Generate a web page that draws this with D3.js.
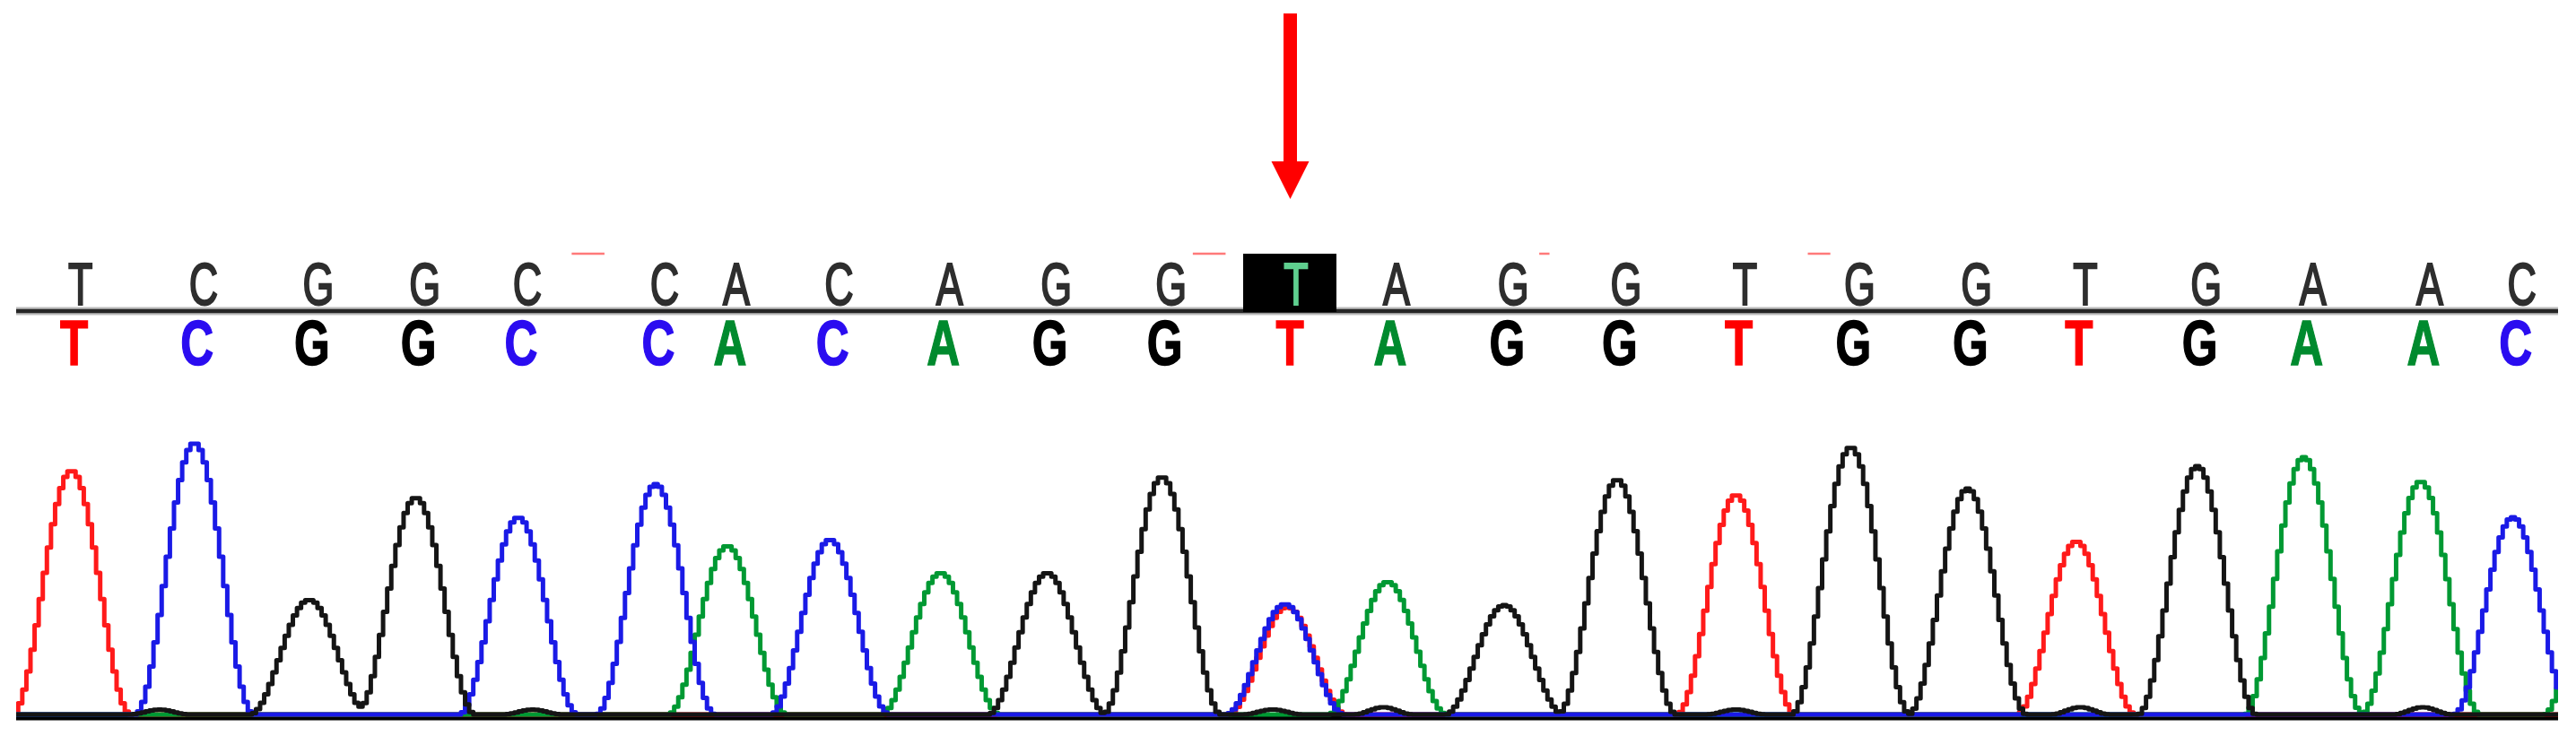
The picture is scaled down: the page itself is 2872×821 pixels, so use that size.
<!DOCTYPE html>
<html>
<head>
<meta charset="utf-8">
<script src="https://cdn.jsdelivr.net/npm/d3@7"></script>
<style>
  body { margin: 0; background: #fff; }
  svg { display: block; }
</style>
</head>
<body>
<div id="chart"></div>
<script>
// base calls, in read order
const bases = ["T", "C", "G", "G", "C", "C", "A", "C", "A", "G", "G", "T", "A", "G", "G", "T", "G", "G", "T", "G", "A", "A", "C"];
// peak centre of each call (scan number)
const callScan = [27, 87, 143, 195, 245, 312, 347, 397, 451, 503, 559, 620, 669, 726, 781, 839, 895, 952, 1005, 1064, 1116, 1173, 1218];
// peak height of each call (signal)
const callHeight = [1360, 1515, 640, 1210, 1100, 1285, 940, 975, 790, 790, 1325, 600, 740, 610, 1310, 1225, 1490, 1260, 965, 1385, 1435, 1300, 1100];

// secondary peaks: the C under the mutated T, and the A running off the right edge
const extraBase = ["C", "A"];
const extraScan = [619, 1262];
const extraHeight = [615, 1050];

// low G bumps along the baseline
const noiseScan = [70, 252, 613, 667, 839, 1007, 1174];
const noiseHeight = [28, 28, 28, 40, 28, 40, 40];

// red quality dashes above the call row (scan ranges)
const qvStart = [271, 574, 743, 874];
const qvEnd = [287, 590, 748, 885];

const mutationIndex = 11;

const width = 2872, height = 821;
const channels = ["T", "A", "C", "G"]; // draw order, G ends on top
const traceColor = { A: "#009933", C: "#1a1ae6", G: "#151515", T: "#ff1a1a" };
const letterColor = { A: "#008a2e", C: "#2a0cf0", G: "#000000", T: "#ff0000" };
const halfWidth = 29; // scans from peak centre to foot

const svg = d3.select("#chart")
    .append("svg")
    .attr("width", width)
    .attr("height", height);

const x = d3.scaleLinear().domain([0, 1240]).range([18, 2852]);
const y = d3.scaleLinear().domain([0, 1700]).range([797, 457]);

// peak list per channel
const peaks = [];
bases.forEach((b, i) => peaks.push({ base: b, scan: callScan[i], h: callHeight[i], w: halfWidth }));
extraBase.forEach((b, i) => peaks.push({ base: b, scan: extraScan[i], h: extraHeight[i], w: halfWidth }));
noiseScan.forEach((s, i) => peaks.push({ base: "G", scan: s, h: noiseHeight[i], w: halfWidth / 2 }));

function signal(base, s) {
    let v = 0;
    peaks.filter(p => p.base === base).forEach(p => {
        const d = Math.abs(s - p.scan);
        if (d < p.w) v += p.h * 0.5 * (1 + Math.cos(Math.PI * d / p.w));
    });
    return v;
}

const scans = d3.range(0, 1241, 2);

svg.append("defs").append("clipPath")
    .attr("id", "plot")
    .append("rect")
    .attr("x", x(0)).attr("y", 0)
    .attr("width", x(1240) - x(0)).attr("height", height);

// baseline bar
svg.append("line")
    .attr("x1", x(0)).attr("x2", x(1240))
    .attr("y1", 800).attr("y2", 800)
    .attr("stroke", "#000")
    .attr("stroke-width", 7);

// traces
const line = d3.line()
    .curve(d3.curveStep)
    .x(d => x(d.s))
    .y(d => y(d.v));

svg.append("g")
    .attr("clip-path", "url(#plot)")
    .selectAll("path")
    .data(channels)
    .join("path")
    .attr("fill", "none")
    .attr("stroke", c => traceColor[c])
    .attr("stroke-width", 5)
    .attr("stroke-linejoin", "round")
    .attr("d", c => line(scans.map(s => ({ s: s, v: signal(c, s) }))));

// separator between the two call rows
svg.append("line")
    .attr("x1", x(0)).attr("x2", x(1240))
    .attr("y1", 347).attr("y2", 347)
    .attr("stroke", "#bdbdbd")
    .attr("stroke-width", 9);
svg.append("line")
    .attr("x1", x(0)).attr("x2", x(1240))
    .attr("y1", 347).attr("y2", 347)
    .attr("stroke", "#262626")
    .attr("stroke-width", 4.5);

// highlighted call
svg.append("rect")
    .attr("x", x(callScan[mutationIndex]) - 49)
    .attr("y", 283)
    .attr("width", 104)
    .attr("height", 65)
    .attr("fill", "#000");

// quality dashes
svg.selectAll("line.qv")
    .data(qvStart)
    .join("line")
    .attr("class", "qv")
    .attr("x1", (d, i) => x(d)).attr("x2", (d, i) => x(qvEnd[i]))
    .attr("y1", 283).attr("y2", 283)
    .attr("stroke", "#ff7a7a")
    .attr("stroke-width", 2.5);

// upper call row
svg.selectAll("text.top")
    .data(bases)
    .join("text")
    .attr("class", "top")
    .attr("transform", (d, i) => `translate(${x(callScan[i]) + 10},340) scale(0.68,1)`)
    .attr("text-anchor", "middle")
    .attr("font-family", "'Liberation Sans', Arial, sans-serif")
    .attr("font-size", 66)
    .attr("fill", (d, i) => i === mutationIndex ? "#5fcf8f" : "#2e2e2e")
    .attr("stroke", (d, i) => i === mutationIndex ? "#5fcf8f" : "#2e2e2e")
    .attr("stroke-width", 2.2)
    .text(d => d);

// lower call row, coloured by base
svg.selectAll("text.bottom")
    .data(bases)
    .join("text")
    .attr("class", "bottom")
    .attr("transform", (d, i) => `translate(${x(callScan[i]) + 3},407) scale(0.72,1)`)
    .attr("text-anchor", "middle")
    .attr("font-family", "'Liberation Sans', Arial, sans-serif")
    .attr("font-weight", "bold")
    .attr("font-size", 71)
    .attr("fill", d => letterColor[d])
    .attr("stroke", d => letterColor[d])
    .attr("stroke-width", 1.5)
    .text(d => d);

// arrow pointing at the mutation
const ax = x(callScan[mutationIndex]) + 3.5;
svg.append("path")
    .attr("fill", "#ff0000")
    .attr("d", `M${ax - 7.5},15 L${ax + 7.5},15 L${ax + 7.5},180 L${ax + 21},180 L${ax},222 L${ax - 21},180 L${ax - 7.5},180 Z`);
</script>
</body>
</html>
